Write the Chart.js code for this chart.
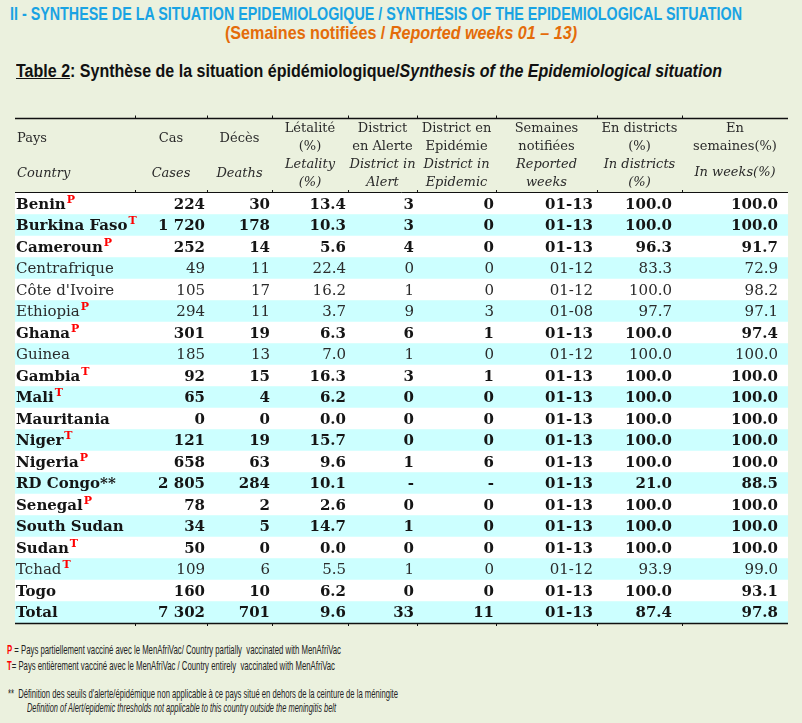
<!DOCTYPE html>
<html lang="fr">
<head>
<meta charset="UTF-8">
<title>Synthèse de la situation épidémiologique</title>
<style>
  body { margin: 0; width: 802px; height: 723px; overflow: hidden; position: relative;
         background: #EBF1DE; font-family: 'Liberation Sans Narrow', 'Liberation Sans', sans-serif; }
  .fit { position: absolute; white-space: pre; display: inline-block; line-height: 1; transform-origin: 0 50%; }
  #h1 { left: 10px; top: 5px; font-size: 18px; font-weight: bold; color: #19A3E3; }
  #h2 { left: 225px; top: 23px; font-size: 19px; font-weight: bold; color: #E46C0A; }
  #h3 { left: 16px; top: 62px; font-size: 18px; font-weight: bold; color: #111; }
  .foot { font-size: 13px; color: #222; }
  .red { color: #FF0000; font-weight: bold; }
  #wrap { position: absolute; left: 0; top: 110px; width: 802px; height: 520px; }
</style>
</head>
<body>
<div id="h1" class="fit" data-w="732">II - SYNTHESE DE LA SITUATION EPIDEMIOLOGIQUE / SYNTHESIS OF THE EPIDEMIOLOGICAL SITUATION</div>
<div id="h2" class="fit" data-w="352">(Semaines notifiées / <i>Reported weeks 01 – 13)</i></div>
<div id="h3" class="fit" data-w="706"><u>Table 2</u>: Synthèse de la situation épidémiologique/<i>Synthesis of the Epidemiological situation</i></div>
<div id="wrap"><canvas id="tableChart"></canvas></div>
<div class="fit foot" style="left:7px; top:643px;" data-w="334"><span class="red">P</span> = Pays partiellement vacciné avec le MenAfriVac/ Country partially  vaccinated with MenAfriVac</div>
<div class="fit foot" style="left:7px; top:659px;" data-w="328"><span class="red">T</span>= Pays entièrement vacciné avec le MenAfriVac / Country entirely  vaccinated with MenAfriVac</div>
<div class="fit foot" style="left:8px; top:687px;" data-w="390">**  Définition des seuils d'alerte/épidémique non applicable à ce pays situé en dehors de la ceinture de la méningite</div>
<div class="fit foot" style="left:27px; top:701px; font-style:italic;" data-w="309">Definition of Alert/epidemic thresholds not applicable to this country outside the meningitis belt</div>

<script src="https://cdn.jsdelivr.net/npm/chart.js"></script>
<script>
  // table data
  const countries = ['Benin', 'Burkina Faso', 'Cameroun', 'Centrafrique', "Côte d'Ivoire", 'Ethiopia', 'Ghana',
    'Guinea', 'Gambia', 'Mali', 'Mauritania', 'Niger', 'Nigeria', 'RD Congo**', 'Senegal', 'South Sudan',
    'Sudan', 'Tchad', 'Togo', 'Total'];
  const vaccine = ['P', 'T', 'P', '', '', 'P', 'P', '', 'T', 'T', '', 'T', 'P', '', 'P', '', 'T', 'T', '', ''];
  const cases = [224, 1720, 252, 49, 105, 294, 301, 185, 92, 65, 0, 121, 658, 2805, 78, 34, 50, 109, 160, 7302];
  const deaths = [30, 178, 14, 11, 17, 11, 19, 13, 15, 4, 0, 19, 63, 284, 2, 5, 0, 6, 10, 701];
  const letality = [13.4, 10.3, 5.6, 22.4, 16.2, 3.7, 6.3, 7.0, 16.3, 6.2, 0.0, 15.7, 9.6, 10.1, 2.6, 14.7, 0.0, 5.5, 6.2, 9.6];
  const alertDistricts = [3, 3, 4, 0, 1, 9, 6, 1, 3, 0, 0, 0, 1, null, 0, 1, 0, 1, 0, 33];
  const epidemicDistricts = [0, 0, 0, 0, 0, 3, 1, 0, 1, 0, 0, 0, 6, null, 0, 0, 0, 0, 0, 11];
  const reportedWeeks = ['01-13', '01-13', '01-13', '01-12', '01-12', '01-08', '01-13', '01-12', '01-13', '01-13',
    '01-13', '01-13', '01-13', '01-13', '01-13', '01-13', '01-13', '01-12', '01-13', '01-13'];
  const inDistricts = [100.0, 100.0, 96.3, 83.3, 100.0, 97.7, 100.0, 100.0, 100.0, 100.0, 100.0, 100.0, 100.0, 21.0,
    100.0, 100.0, 100.0, 93.9, 100.0, 87.4];
  const inWeeks = [100.0, 100.0, 91.7, 72.9, 98.2, 97.1, 97.4, 100.0, 100.0, 100.0, 100.0, 100.0, 100.0, 88.5,
    100.0, 100.0, 100.0, 99.0, 93.1, 97.8];
  const plainRows = ['Centrafrique', "Côte d'Ivoire", 'Ethiopia', 'Guinea', 'Tchad'];

  // column headers: [text, italic, line]  line 0..3 = four header lines, 'a'/'b' = two-line headers
  const headers = [
    [['Pays', false, 'a'], ['Country', true, 'b']],
    [['Cas', false, 'a'], ['Cases', true, 'b']],
    [['Décès', false, 'a'], ['Deaths', true, 'b']],
    [['Létalité', false, 0], ['(%)', false, 1], ['Letality', true, 2], ['(%)', true, 3]],
    [['District', false, 0], ['en Alerte', false, 1], ['District in', true, 2], ['Alert', true, 3]],
    [['District en', false, 0], ['Epidémie', false, 1], ['District in', true, 2], ['Epidemic', true, 3]],
    [['Semaines', false, 0], ['notifiées', false, 1], ['Reported', true, 2], ['weeks', true, 3]],
    [['En districts', false, 0], ['(%)', false, 1], ['In districts', true, 2], ['(%)', true, 3]],
    [['En', false, 0], ['semaines(%)', false, 1], ['In weeks(%)', true, 'c']]
  ];

  // layout
  const colWidths = [120, 72, 65, 76, 69, 79, 101, 85, 106];
  const colPad = [0, 2, 2, 2, 3, 2, 4, 10, 10];
  const colEdges = colWidths.reduce((acc, w) => { acc.push(acc[acc.length - 1] + w); return acc; }, [0]);
  const tableWidth = colEdges[colEdges.length - 1];
  const headerY = { 0: -64, 1: -46, 2: -28, 3: -10, a: -54, b: -19, c: -20 };

  const fmtInt = v => v === null ? '-' : String(v).replace(/\B(?=(\d{3})+(?!\d))/g, ' ');
  const fmt1 = v => v.toFixed(1);

  function cellText(i) {
    return [fmtInt(cases[i]), fmtInt(deaths[i]), fmt1(letality[i]), fmtInt(alertDistricts[i]),
      fmtInt(epidemicDistricts[i]), reportedWeeks[i], fmt1(inDistricts[i]), fmt1(inWeeks[i])];
  }

  const tablePlugin = {
    id: 'tableText',
    afterDatasetsDraw(chart) {
      const { ctx, chartArea: a, scales: { x, y } } = chart;
      ctx.save();
      // rules
      const left = x.getPixelForValue(0), right = x.getPixelForValue(tableWidth);
      ctx.strokeStyle = '#111';
      const rule = (yy, w) => { ctx.lineWidth = w; ctx.beginPath(); ctx.moveTo(left, yy); ctx.lineTo(right, yy); ctx.stroke(); };
      const topY = a.top - 74.5;
      rule(topY, 1.5);
      rule(a.top - 0.5, 1);
      rule(a.bottom + 0.5, 1.5);
      ctx.lineWidth = 1;
      colEdges.slice(1, -1).forEach(e => {
        const px = Math.round(x.getPixelForValue(e)) + 0.5;
        ctx.beginPath();
        ctx.moveTo(px, topY - 3); ctx.lineTo(px, topY);
        ctx.moveTo(px, a.top - 3); ctx.lineTo(px, a.top);
        ctx.moveTo(px, a.bottom); ctx.lineTo(px, a.bottom + 3);
        ctx.stroke();
      });

      // header
      ctx.fillStyle = '#2a2a2a';
      ctx.textBaseline = 'middle';
      headers.forEach((lines, c) => {
        const cx = c === 0 ? x.getPixelForValue(0) + 2 : (x.getPixelForValue(colEdges[c]) + x.getPixelForValue(colEdges[c + 1])) / 2;
        ctx.textAlign = c === 0 ? 'left' : 'center';
        lines.forEach(([t, it, ln]) => {
          ctx.font = (it ? 'italic ' : '') + "13px 'DejaVu Serif'";
          ctx.fillText(t, cx, a.top + headerY[ln]);
        });
      });

      // rows
      countries.forEach((name, i) => {
        const cy = y.getPixelForValue(i) + 1;
        const bold = !plainRows.includes(name);
        const weight = bold ? 'bold ' : '';
        ctx.fillStyle = bold ? '#151515' : '#2b2b2b';
        ctx.font = weight + "15px 'DejaVu Serif'";
        ctx.textAlign = 'left';
        const nx = x.getPixelForValue(0) + 1;
        ctx.fillText(name, nx, cy);
        if (vaccine[i]) {
          const w = ctx.measureText(name).width;
          ctx.fillStyle = '#FF0000';
          ctx.font = "bold 11px 'DejaVu Serif'";
          ctx.fillText(vaccine[i], nx + w + 1, cy - 5);
          ctx.fillStyle = bold ? '#151515' : '#2b2b2b';
          ctx.font = weight + "15px 'DejaVu Serif'";
        }
        ctx.textAlign = 'right';
        cellText(i).forEach((t, k) => {
          const c = k + 1;
          ctx.fillText(t, x.getPixelForValue(colEdges[c + 1]) - colPad[c], cy);
        });
      });
      ctx.restore();
    }
  };

  const rowColors = countries.map((_, i) => i % 2 ? '#CCFFFF' : '#FFFFFF');

  new Chart(document.getElementById('tableChart').getContext('2d'), {
    type: 'bar',
    data: {
      labels: countries,
      datasets: [{
        label: 'rows',
        data: countries.map(() => [0, tableWidth]),
        backgroundColor: rowColors,
        borderWidth: 0,
        barPercentage: 1,
        categoryPercentage: 1
      }]
    },
    options: {
      indexAxis: 'y',
      responsive: true,
      maintainAspectRatio: false,
      animation: false,
      layout: { padding: { top: 83, bottom: 7, left: 15, right: 14 } },
      plugins: { legend: { display: false }, tooltip: { enabled: false }, title: { display: false } },
      scales: {
        x: { type: 'linear', min: 0, max: tableWidth, display: false },
        y: { display: false, offset: true }
      }
    },
    plugins: [tablePlugin]
  });

  // squeeze the heading and note lines to the reference widths
  document.querySelectorAll('.fit').forEach(el => {
    const target = +el.dataset.w;
    const natural = el.getBoundingClientRect().width;
    if (natural > 0) el.style.transform = `scaleX(${target / natural})`;
  });
</script>
</body>
</html>
